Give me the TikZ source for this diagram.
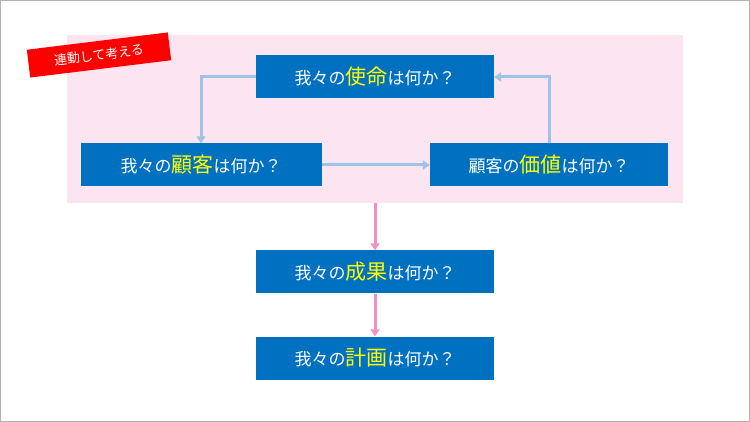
\documentclass[tikz,border=0pt]{standalone}
\usepackage{fontspec}
\setmainfont{Noto Sans CJK JP}
\usetikzlibrary{arrows.meta}
\definecolor{boxblue}{RGB}{0,112,192}
\definecolor{pinkbg}{RGB}{252,228,240}
\definecolor{linkblue}{RGB}{157,195,230}
\definecolor{linkpink}{RGB}{244,143,196}
\definecolor{hiyellow}{RGB}{255,255,0}
\newcommand{\hi}[1]{{\color{hiyellow}\fontsize{21}{24}\selectfont #1}}
\begin{document}
\begin{tikzpicture}[x=1pt,y=-1pt,
question/.style={
% The box:
rectangle,
fill=boxblue,
text=white,
minimum width=238pt,
minimum height=43pt,
font=\fontsize{17}{20}\selectfont,
inner sep=0pt
},
bluelink/.style={draw=linkblue,line width=3pt,-{Triangle[length=7pt,width=9pt]}},
pinklink/.style={draw=linkpink,line width=3pt,-{Triangle[length=7pt,width=9pt]}}
]
\useasboundingbox (0,0) rectangle (750,422);
\draw[gray!60] (0.5,0.5) rectangle (749.5,421.5);
\node (group) [fill=pinkbg,minimum width=616pt,minimum height=168pt,inner sep=0pt] at (375,119) {};
\node (tag) [fill=red,text=white,minimum width=142pt,minimum height=28pt,rotate=7,font=\fontsize{13}{15}\selectfont] at (99,55) {連動して考える};
% Questions:
\node (mission) [question] at (375,77) {我々の\hi{使命}は何か？};
\node (customer) [question,minimum width=241pt] at (201,165) {我々の\hi{顧客}は何か？};
\node (value) [question] at (549,165) {顧客の\hi{価値}は何か？};
\node (result) [question] at (375,272) {我々の\hi{成果}は何か？};
\node (plan) [question] at (375,358) {我々の\hi{計画}は何か？};
\draw[bluelink] (mission.west) -| (customer.north);
\draw[bluelink] (customer) -- (value);
\draw[bluelink] (value.north) |- (mission.east);
\draw[pinklink] (group.south -| result.north) -- (result.north);
\draw[pinklink] (result) -- (plan);
\end{tikzpicture}
\end{document}
